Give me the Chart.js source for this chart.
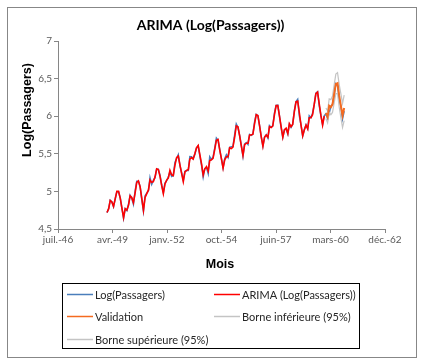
<!DOCTYPE html>
<html><head><meta charset="utf-8">
<script src="https://cdn.jsdelivr.net/npm/chart.js@4.4.1/dist/chart.umd.min.js"></script>
<style>html,body{margin:0;padding:0;background:#fff}#wrap{width:423px;height:364px}</style>
</head><body><div id="wrap"><canvas id="c" width="423" height="364"></canvas></div>
<script>
// ---- categories (months, Jan 1949 .. Dec 1960)
const months = [];
for (let y = 1949; y <= 1960; y++) for (let m = 1; m <= 12; m++) months.push(y + '-' + String(m).padStart(2, '0'));

// ---- series values
const logPassagers = [
 4.718,4.771,4.883,4.860,4.796,4.905,4.997,4.997,4.913,4.779,4.644,4.771,
 4.745,4.836,4.949,4.905,4.828,5.004,5.136,5.136,5.063,4.890,4.736,4.942,
 4.977,5.011,5.182,5.094,5.147,5.182,5.293,5.293,5.215,5.088,4.984,5.112,
 5.142,5.193,5.263,5.198,5.209,5.384,5.438,5.489,5.342,5.252,5.147,5.268,
 5.278,5.278,5.464,5.460,5.434,5.493,5.576,5.606,5.468,5.352,5.193,5.303,
 5.318,5.236,5.460,5.425,5.455,5.576,5.710,5.680,5.557,5.434,5.313,5.434,
 5.489,5.451,5.587,5.595,5.598,5.753,5.897,5.849,5.743,5.613,5.468,5.628,
 5.649,5.624,5.759,5.746,5.762,5.924,6.023,6.004,5.872,5.724,5.602,5.724,
 5.753,5.707,5.875,5.852,5.872,6.045,6.142,6.146,6.001,5.849,5.720,5.817,
 5.829,5.762,5.892,5.852,5.894,6.075,6.196,6.225,6.001,5.883,5.737,5.820,
 5.886,5.835,6.006,5.981,6.040,6.157,6.306,6.326,6.138,6.009,5.892,6.004,
 6.033,5.969,6.038,6.133,6.157,6.282,6.433,6.407,6.230,6.133,5.966,6.068
];
const arimaFit = [
 4.72,4.77,4.88,4.86,4.80,4.90,5.00,5.00,4.91,4.78,4.65,4.77,
 4.75,4.82,4.94,4.92,4.85,4.98,5.12,5.14,5.06,4.91,4.75,4.92,
 4.97,5.02,5.15,5.12,5.13,5.19,5.30,5.29,5.20,5.08,4.97,5.10,
 5.15,5.18,5.28,5.22,5.21,5.35,5.45,5.47,5.35,5.24,5.13,5.26,
 5.28,5.29,5.43,5.45,5.43,5.50,5.58,5.61,5.49,5.37,5.22,5.30,
 5.33,5.27,5.41,5.42,5.44,5.56,5.68,5.69,5.55,5.44,5.31,5.42,
 5.46,5.46,5.58,5.57,5.59,5.72,5.87,5.86,5.74,5.61,5.48,5.62,
 5.64,5.64,5.75,5.75,5.76,5.90,6.02,6.01,5.87,5.73,5.60,5.72,
 5.75,5.72,5.86,5.85,5.87,6.02,6.14,6.14,6.00,5.86,5.72,5.82,
 5.84,5.77,5.90,5.86,5.89,6.06,6.19,6.20,6.04,5.88,5.74,5.82,
 5.88,5.83,5.98,5.98,6.02,6.16,6.30,6.32,6.16,6.01,5.88,6.00
];
const validation = [6.04,5.99,6.14,6.12,6.16,6.30,6.43,6.44,6.27,6.14,6.01,6.11];
const borneInf   = [5.97,5.91,6.05,6.02,6.05,6.18,6.30,6.30,6.12,5.98,5.85,5.94];
const borneSup   = [6.11,6.07,6.23,6.22,6.27,6.42,6.56,6.58,6.42,6.30,6.17,6.28];

// ---- tick labels (x axis: Excel day serials 17000..23000, step 1000)
const xTickLabels = ['juil.-46','avr.-49','janv.-52','oct.-54','juin-57','mars-60','déc.-62'];
const xMin = 17000, xStep = 1000;
const yTickLabels = ['4,5','5','5,5','6','6,5','7'];

function serial(ym) {
  const [y, m] = ym.split('-').map(Number);
  return (Date.UTC(y, m - 1, 1) - Date.UTC(1899, 11, 30)) / 864e5;
}
function pts(values, offset) {
  return values.map((v, i) => ({ x: serial(months[offset + i]), y: v }));
}

const FONT = 'Lato, "Open Sans", sans-serif';

const decor = {
  id: 'decor',
  beforeDraw(chart) {
    const c = chart.ctx;
    c.save();
    c.fillStyle = '#fff';
    c.fillRect(0, 0, chart.width, chart.height);
    c.restore();
  },
  afterDraw(chart) {
    const c = chart.ctx;
    const a = chart.chartArea;
    c.save();
    // outer border
    c.strokeStyle = '#878787';
    c.lineWidth = 1;
    c.strokeRect(7.5, 7.5, 409, 350);
    // title
    c.fillStyle = '#000';
    c.textAlign = 'center';
    c.textBaseline = 'middle';
    c.font = 'bold 14px ' + FONT;
    c.fillText('ARIMA (Log(Passagers))', (a.left + a.right) / 2 - 11, 25);
    // axis titles
    c.font = 'bold 12.5px "Liberation Sans", Arial, sans-serif';
    c.fillText('Mois', 220, 265);
    c.save();
    c.translate(28, 110);
    c.rotate(-Math.PI / 2);
    c.fillText('Log(Passagers)', 0, 0);
    c.restore();
    // legend box
    c.strokeStyle = '#000';
    c.strokeRect(62.5, 283.5, 297, 65);
    const ds = chart.data.datasets;
    const pos = [[67, 294], [214, 294], [67, 316], [214, 316], [67, 339]];
    c.font = '11px ' + FONT;
    c.textAlign = 'left';
    ds.forEach((d, i) => {
      const [x, y] = pos[i];
      c.strokeStyle = d.borderColor;
      c.lineWidth = 1.5;
      c.beginPath();
      c.moveTo(x, y + 0.5);
      c.lineTo(x + 26, y + 0.5);
      c.stroke();
      c.fillStyle = '#262626';
      c.fillText(d.label, x + 28, y + 1);
    });
    c.restore();
  }
};

new Chart(document.getElementById('c'), {
  type: 'line',
  data: {
    datasets: [
      { label: 'Log(Passagers)', data: pts(logPassagers, 0), borderColor: '#4A7EBB', borderWidth: 1.5, order: 5 },
      { label: 'ARIMA (Log(Passagers))', data: pts(arimaFit, 0), borderColor: '#FF0000', borderWidth: 1.6, order: 4 },
      { label: 'Validation', data: pts(validation, 132), borderColor: '#F46A1F', borderWidth: 2, order: 1 },
      { label: 'Borne inférieure (95%)', data: pts(borneInf, 132), borderColor: '#C4C4C4', borderWidth: 1.2, order: 3 },
      { label: 'Borne supérieure (95%)', data: pts(borneSup, 132), borderColor: '#C4C4C4', borderWidth: 1.2, order: 2 }
    ]
  },
  options: {
    responsive: false,
    animation: false,
    devicePixelRatio: 1,
    layout: { padding: { left: 0, top: 41, right: 38, bottom: 115 } },
    elements: { point: { radius: 0 }, line: { tension: 0 } },
    plugins: { legend: { display: false }, title: { display: false }, tooltip: { enabled: false } },
    scales: {
      x: {
        type: 'linear',
        min: 17000, max: 23000,
        afterFit(s) { s.height = 20; },
        afterBuildTicks(s) { s.ticks = xTickLabels.map((_, i) => ({ value: xMin + i * xStep })); },
        ticks: {
          callback: (v) => xTickLabels[Math.round((v - xMin) / xStep)],
          color: '#595959', font: { family: FONT, size: 10 }, padding: 1, maxRotation: 0, autoSkip: false
        },
        grid: { drawOnChartArea: false, drawTicks: true, tickLength: 4, color: '#868686' },
        border: { color: '#868686' }
      },
      y: {
        min: 4.5, max: 7,
        afterFit(s) { s.width = 58; },
        afterBuildTicks(s) { s.ticks = yTickLabels.map((_, i) => ({ value: 4.5 + i * 0.5 })); },
        ticks: {
          callback: (v, i) => yTickLabels[i],
          color: '#595959', font: { family: FONT, size: 10 }, padding: 2
        },
        grid: { drawOnChartArea: false, drawTicks: true, tickLength: 4, color: '#868686' },
        border: { color: '#868686' }
      }
    }
  },
  plugins: [decor]
});
</script>
</body></html>
